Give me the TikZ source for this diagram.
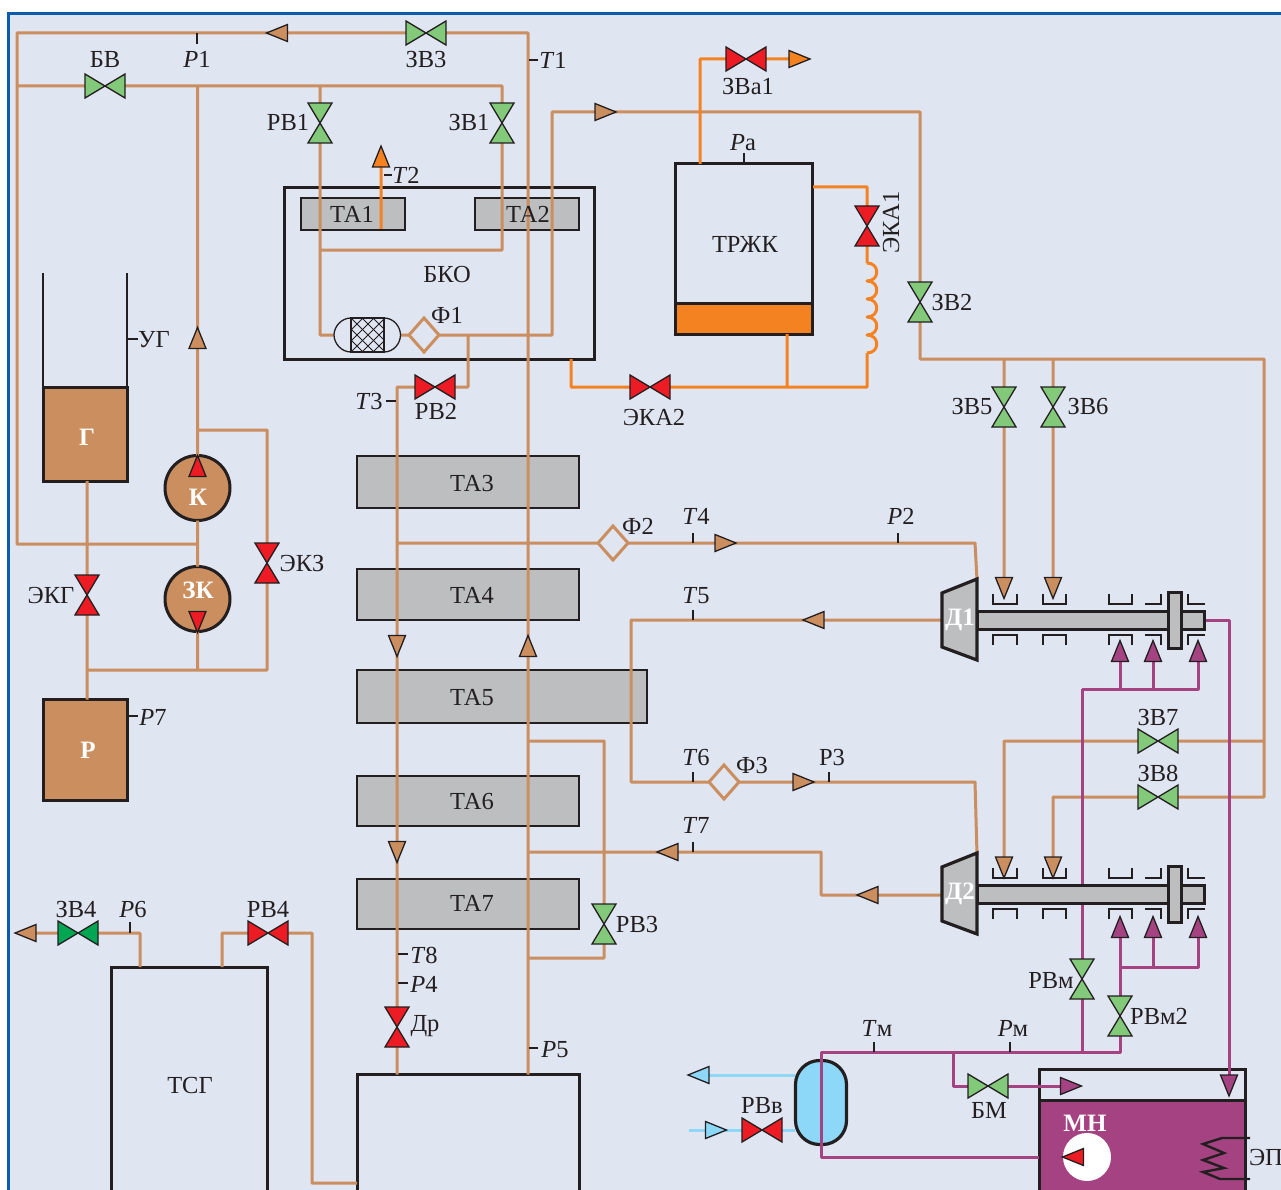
\documentclass[tikz,border=0pt]{standalone}
\usepackage{fontspec}
\setmainfont{Liberation Serif}
\pgfdeclarelayer{front}
\pgfsetlayers{main,front}
\definecolor{bgc}{HTML}{E0E5F2}
\definecolor{framec}{HTML}{0B5CAD}
\definecolor{dk}{HTML}{231F20}
\definecolor{brw}{HTML}{CB8E5F}
\definecolor{grn}{HTML}{82C97A}
\definecolor{dgrn}{HTML}{00A651}
\definecolor{rd}{HTML}{ED1C24}
\definecolor{org}{HTML}{F58220}
\definecolor{mag}{HTML}{A54281}
\definecolor{cyn}{HTML}{8DD8F8}
\definecolor{gry}{HTML}{BCBEC0}
\tikzset{
 vnode/.style={rectangle,inner sep=0pt,outer sep=0pt},
 sym/.style={draw=dk,line width=1.3pt,line join=miter},
 pipe/.style={draw=brw,line width=3pt,line join=round,line cap=butt},
 opipe/.style={draw=org,line width=3pt,line join=round},
 mpipe/.style={draw=mag,line width=3pt,line join=round},
 bpipe/.style={draw=cyn,line width=3pt},
 tick/.style={draw=dk,line width=1.2pt},
 box/.style={rectangle,draw=dk,line width=3pt,inner sep=0pt,outer sep=0pt},
 tabox/.style={box,fill=gry,line width=2.8pt},
 lbl/.style={inner sep=0pt,outer sep=0pt,text=dk,yshift=-0.5pt,font=\fontsize{24.5}{24.5}\selectfont},
 wlbl/.style={inner sep=0pt,outer sep=0pt,text=white,font=\fontsize{25}{25}\selectfont\bfseries},
}
\newcommand\bx[6][]{\pgfmathsetmacro\bxcx{(#3+#5)/2}\pgfmathsetmacro\bxcy{(#4+#6)/2}%
 \node[box,#1,minimum width={(#5-#3)*1pt},minimum height={(#6-#4)*1pt}] (#2) at (\bxcx,\bxcy) {};}
\newcommand\vH[4]{\node[vnode,minimum width=40pt,minimum height=24pt] (#1) at (#2,#3) {};
 \begin{pgfonlayer}{front}\draw[sym,fill=#4] (#1.north west)--(#1.south east)--(#1.north east)--(#1.south west)--cycle;\end{pgfonlayer}}
\newcommand\vV[4]{\node[vnode,minimum width=24pt,minimum height=40pt] (#1) at (#2,#3) {};
 \begin{pgfonlayer}{front}\draw[sym,fill=#4] (#1.north west)--(#1.south east)--(#1.south west)--(#1.north east)--cycle;\end{pgfonlayer}}
\newcommand\aR[4]{\node[vnode,minimum width=21pt,minimum height=17pt] (#1) at (#2,#3) {};
 \begin{pgfonlayer}{front}\draw[sym,fill=#4] (#1.south west)--(#1.east)--(#1.north west)--cycle;\end{pgfonlayer}}
\newcommand\aL[4]{\node[vnode,minimum width=21pt,minimum height=17pt] (#1) at (#2,#3) {};
 \begin{pgfonlayer}{front}\draw[sym,fill=#4] (#1.south east)--(#1.west)--(#1.north east)--cycle;\end{pgfonlayer}}
\newcommand\aU[4]{\node[vnode,minimum width=17pt,minimum height=21pt] (#1) at (#2,#3) {};
 \begin{pgfonlayer}{front}\draw[sym,fill=#4] (#1.south west)--(#1.north)--(#1.south east)--cycle;\end{pgfonlayer}}
\newcommand\aD[4]{\node[vnode,minimum width=17pt,minimum height=21pt] (#1) at (#2,#3) {};
 \begin{pgfonlayer}{front}\draw[sym,fill=#4] (#1.north west)--(#1.south)--(#1.north east)--cycle;\end{pgfonlayer}}
\newcommand\fltr[3]{\node[vnode,minimum width=30pt,minimum height=34pt] (#1) at (#2,#3) {};
 \begin{pgfonlayer}{front}\draw[draw=brw,line width=3pt,fill=bgc] (#1.north)--(#1.east)--(#1.south)--(#1.west)--cycle;\end{pgfonlayer}}
\newcommand\lab[4]{\node[lbl] (#1) at (#2,#3) {#4};}
\newcommand\wlab[4]{\node[wlbl] (#1) at (#2,#3) {#4};}
\begin{document}
\begin{tikzpicture}[x=1pt,y=-1pt]
\useasboundingbox (0,0) rectangle (1281,1190);
\fill[white] (0,0) rectangle (1281,1190);
\fill[bgc,draw=framec,line width=3pt] (8.5,14) rectangle (1295,1205);

% ---- boxes ----
\bx{bko}{284}{187.5}{594.5}{359}
\bx[tabox,line width=2pt]{ta1}{301}{198}{405}{230}
\bx[tabox,line width=2pt]{ta2}{475}{198}{579}{230}
\bx[tabox]{ta3}{357}{456}{579}{508}
\bx[tabox]{ta4}{357}{569}{579}{620}
\bx[tabox]{ta5}{357}{670}{647}{723}
\bx[tabox]{ta6}{357}{776}{579}{826}
\bx[tabox]{ta7}{357}{879}{579}{929}
\bx{tankB}{357}{1074.5}{579}{1205}
\bx{tsg}{111}{967}{267}{1205}
\bx[fill=brw]{tankG}{43}{387}{127}{481}
\draw[draw=dk,line width=2.6pt] (tankG.north west) -- (43,273) (tankG.north east) -- (127,273);
\bx[fill=brw]{boxR}{43}{699.5}{127}{800}
\bx{trzk}{675}{164}{812.5}{303}
\bx[fill=org]{trzkB}{675}{303}{812.5}{334}
\bx[fill=mag]{tankMN}{1039}{1100}{1245}{1205}
\bx{tankMNt}{1039}{1069}{1245}{1100}
\node[circle,draw=dk,line width=3pt,fill=brw,minimum size=65pt,inner sep=0pt,outer sep=0pt] (cK) at (197.5,488) {};
\node[circle,draw=dk,line width=3pt,fill=brw,minimum size=65pt,inner sep=0pt,outer sep=0pt] (cZK) at (197.5,599) {};
\node[circle,fill=white,minimum size=48pt,inner sep=0pt,outer sep=0pt] (cMN) at (1087,1157) {};
\node[rectangle,rounded corners=24pt,draw=dk,line width=3.2pt,fill=cyn,minimum width=51pt,minimum height=84pt,inner sep=0pt,outer sep=0pt] (cool) at (821,1102.5) {};

% ---- symbols ----
\vH{vZV3}{426}{33}{grn}
\vH{vBV}{105}{86}{grn}
\vV{vRV1}{320}{123}{grn}
\vV{vZV1}{502}{123}{grn}
\vV{vZV2}{920}{302}{grn}
\vV{vZV5}{1004}{407}{grn}
\vV{vZV6}{1053}{407}{grn}
\vH{vZV7}{1158}{741}{grn}
\vH{vZV8}{1158}{797}{grn}
\vV{vRV3}{604}{924}{grn}
\vH{vZV4}{78}{933}{dgrn}
\vH{vRV4}{268}{933}{rd}
\vH{vRV2}{435}{387}{rd}
\vV{vDr}{397}{1027}{rd}
\vV{vEKG}{87}{595}{rd}
\vV{vEKZ}{267}{563}{rd}
\vH{vZVa}{746}{59}{rd}
\vV{vEKA1}{867}{226}{rd}
\vH{vEKA2}{650}{387}{rd}
\vV{vRVm}{1082}{979}{grn}
\vV{vRVm2}{1120}{1016}{grn}
\vH{vBM}{988}{1086}{grn}
\vH{vRVv}{762}{1130}{rd}

\aL{aTop}{277}{33}{brw}
\aU{aKup}{197.5}{338}{brw}
\aR{aHot}{605.5}{112}{brw}
\aU{aT2}{381}{156.5}{org}
\aR{aOrg}{799.5}{59}{org}
\aD{aT3a}{397}{646}{brw}
\aU{aT1}{528}{646}{brw}
\aD{aT3b}{397}{852}{brw}
\aR{aF2}{725.5}{543}{brw}
\aL{aT5}{813.5}{620}{brw}
\aR{aF3}{803.5}{782}{brw}
\aL{aT7}{667.5}{852}{brw}
\aL{aD2}{867.5}{895}{brw}
\aL{aOut}{25.5}{933}{brw}
\aD{aS1}{1004}{588}{brw}
\aD{aS2}{1053}{588}{brw}
\aD{aS3}{1004}{867.5}{brw}
\aD{aS4}{1053}{867.5}{brw}
\aU{aM1}{1120}{651}{mag}
\aU{aM2}{1153}{651}{mag}
\aU{aM3}{1198}{651}{mag}
\aU{aM4}{1120}{927}{mag}
\aU{aM5}{1153}{927}{mag}
\aU{aM6}{1198}{927}{mag}
\aD{aMN}{1229}{1085.5}{mag}
\aR{aBM}{1071}{1086}{mag}
\aL{aBlue}{698.5}{1075}{cyn}
\aR{aBlueR}{716}{1130}{cyn}
\aU{aKr}{197.5}{466}{rd}
\aD{aZKr}{197.5}{622}{rd}
\aL{aMNr}{1073}{1157}{rd}

\fltr{fF1}{424}{335}
\fltr{fF2}{613}{543}
\fltr{fF3}{724}{782}

% drier
\node[vnode,minimum width=67pt,minimum height=34pt] (dry) at (367,335) {};

% ---- brown pipes ----
\coordinate (tTR) at (528,33);
\coordinate (tTL) at (17,33);
\coordinate (tBL) at (17,544);
\coordinate (tML) at (17,86);
\coordinate (jKZ) at (197.5,544);
\coordinate (jK) at (197.5,86);
\coordinate (jRV1) at (320,86);
\coordinate (jZV1) at (502,86);
\coordinate (cD1) at (320,335);
\coordinate (cZ1) at (502,250);
\coordinate (cZ2) at (320,250);
\coordinate (jK2) at (197.5,430);
\coordinate (cE1) at (267,430);
\coordinate (cE2) at (267,670);
\coordinate (cE3) at (87,670);
\coordinate (jZK) at (197.5,670);
\coordinate (h1) at (552,335);
\coordinate (h2) at (552,112);
\coordinate (h3) at (920,112);
\coordinate (h4) at (920,359);
\coordinate (h5) at (1264,359);
\coordinate (h6) at (1264,797);
\coordinate (h7) at (1264,741);
\coordinate (h8) at (1004,741);
\coordinate (h9) at (1053,797);
\coordinate (h10) at (1004,359);
\coordinate (h11) at (1053,359);
\coordinate (r1) at (468,335);
\coordinate (r2) at (468,387);
\coordinate (r3) at (397,387);
\coordinate (f1) at (397,543);
\coordinate (f2) at (975,543);
\coordinate (g1) at (631,620);
\coordinate (g2) at (631,782);
\coordinate (g3) at (975,782);
\coordinate (k1) at (821,895);
\coordinate (k2) at (821,852);
\coordinate (k3) at (528,852);
\coordinate (m1) at (528,741);
\coordinate (m2) at (604,741);
\coordinate (m3) at (604,958);
\coordinate (m4) at (528,958);
\coordinate (s1) at (140,967);
\coordinate (s2) at (140,933);
\coordinate (s3) at (222,967);
\coordinate (s4) at (222,933);
\coordinate (s5) at (312,933);
\coordinate (s6) at (312,1183);
\coordinate (s7) at (357,1183);
\path[pipe]
 (vZV3.east)--(tTR)--(tTR |- tankB.north)
 (vZV3.west)--(tTL)--(tBL)--(jKZ)
 (tML)--(vBV.west)
 (vBV.east)--(jZV1)--(vZV1.north)
 (jRV1)--(vRV1.north)
 (vRV1.south)--(cD1)--(dry.west)
 (vZV1.south)--(cZ1)--(cZ2)
 (jK)--(cK.north)
 (cK.south)--(cZK.north)
 (jK2)--(cE1)--(vEKZ.north)
 (vEKZ.south)--(cE2)--(cE3)
 (cZK.south)--(jZK)
 (vEKG.north |- tankG.south)--(vEKG.north)
 (vEKG.south)--(vEKG.south |- boxR.north)
 (dry.east)--(fF1.west)
 (fF1.east)--(h1)--(h2)--(h3)--(vZV2.north)
 (vZV2.south)--(h4)--(h5)--(h6)--(vZV8.east)
 (h7)--(vZV7.east)
 (vZV7.west)--(h8)--(aS3.north)
 (vZV8.west)--(h9)--(aS4.north)
 (h10)--(vZV5.north)
 (vZV5.south)--(aS1.north)
 (h11)--(vZV6.north)
 (vZV6.south)--(aS2.north)
 (r1)--(r2)--(vRV2.east)
 (vRV2.west)--(r3)--(vDr.north)
 (vDr.south)--(vDr.south |- tankB.north)
 (f1)--(fF2.west)
 (fF2.east)--(f2)--(977,580)
 (942,620)--(g1)--(g2)--(fF3.west)
 (fF3.east)--(g3)--(977,855)
 (942,895)--(k1)--(k2)--(k3)
 (m1)--(m2)--(vRV3.north)
 (vRV3.south)--(m3)--(m4)
 (s1)--(s2)--(vZV4.east)
 (vZV4.west)--(aOut.east)
 (s3)--(s4)--(vRV4.west)
 (vRV4.east)--(s5)--(s6)--(s7);

% ---- orange pipes ----
\coordinate (o1) at (700,164);
\coordinate (o2) at (700,59);
\coordinate (o3) at (813,187);
\coordinate (o4) at (867,187);
\coordinate (o5) at (867,263);
\coordinate (o6) at (867,353);
\coordinate (o7) at (867,387);
\coordinate (o8) at (571,387);
\coordinate (o9) at (571,359);
\coordinate (o10) at (787,334);
\coordinate (o11) at (787,387);
\coordinate (o12) at (381,229);
\path[opipe]
 (o1)--(o2)--(vZVa.west)
 (vZVa.east)--(aOrg.west)
 (o3)--(o4)--(vEKA1.north)
 (vEKA1.south)--(o5)
 (o5)
 .. controls (880,263) and (880,281) .. (867,281)
 .. controls (880,281) and (880,299) .. (867,299)
 .. controls (880,299) and (880,317) .. (867,317)
 .. controls (880,317) and (880,335) .. (867,335)
 .. controls (880,335) and (880,353) .. (o6)
 (o6)--(o7)--(vEKA2.east)
 (vEKA2.west)--(o8)--(o9)
 (o10)--(o11)
 (o12)--(aT2.south);

% ---- magenta pipes ----
\coordinate (q1) at (1204,620);
\coordinate (q2) at (1229,620);
\coordinate (q3) at (1082,689);
\coordinate (q4) at (1198,689);
\coordinate (q5) at (1120,689);
\coordinate (q6) at (1153,689);
\coordinate (q7) at (1082,1052);
\coordinate (q8) at (1120,967);
\coordinate (q9) at (1198,967);
\coordinate (q10) at (1153,967);
\coordinate (q11) at (1120,1052);
\coordinate (q12) at (821,1052);
\coordinate (q13) at (821,1157);
\coordinate (q14) at (1039,1157);
\coordinate (q15) at (953,1052);
\coordinate (q16) at (953,1086);
\path[mpipe]
 (q1)--(q2)--(aMN.north)
 (q3)--(q4)--(aM3.south)
 (q5)--(aM1.south)
 (q6)--(aM2.south)
 (q3)--(vRVm.north)
 (vRVm.south)--(q7)
 (q8)--(q9)--(aM6.south)
 (q8)--(aM4.south)
 (q10)--(aM5.south)
 (q8)--(vRVm2.north)
 (vRVm2.south)--(q11)--(q12)--(q13)--(q14)
 (q15)--(q16)--(vBM.west)
 (vBM.east)--(aBM.west);

% ---- blue pipes ----
\coordinate (b1) at (795,1075);
\coordinate (b2) at (795,1130);
\coordinate (b3) at (689,1130);
\path[bpipe]
 (b1)--(aBlue.east)
 (b2)--(vRVv.east)
 (vRVv.west)--(b3);

% ---- drier ----
\draw[draw=dk,line width=1.3pt,fill=bgc] (351,318) .. controls (341,318) and (334,327) .. (334,335)
 .. controls (334,343) and (341,352) .. (351,352) -- (384,352)
 .. controls (394,352) and (400.5,343) .. (400.5,335) .. controls (400.5,327) and (394,318) .. (384,318) -- cycle;
\begin{scope}
\clip (351,318) rectangle (384,352);
\foreach \k in {-8,...,8} {
 \draw[dk,line width=1pt] (351+\k*11,318) -- (351+\k*11+34,352);
 \draw[dk,line width=1pt] (351+\k*11,352) -- (351+\k*11+34,318);
}
\end{scope}
\draw[dk,line width=1.6pt] (351,318) rectangle (384,352);

% ---- turbines ----
\node[vnode,minimum width=35pt,minimum height=81pt] (D1) at (959.5,619.5) {};
\node[vnode,minimum width=35pt,minimum height=81pt] (D2) at (959.5,894) {};
\foreach \off in {0,274} {
\begin{scope}[shift={(0,\off)}]
 \draw[draw=dk,line width=3pt,fill=gry] (977,611) rectangle (1168,629);
 \draw[draw=dk,line width=3pt,fill=gry] (1181,611) rectangle (1204,629);
 \draw[draw=dk,line width=3pt,fill=gry] (1168,592) rectangle (1181,648);
 \draw[draw=dk,line width=3.2pt,fill=gry,line join=miter] (942,593) -- (977,579) -- (977,660) -- (942,647) -- cycle;
 \foreach \a/\b in {993/1017,1043/1066,1109/1132} {
  \draw[draw=dk,line width=2.6pt] (\a,594) -- (\a,604) -- (\b,604) -- (\b,594);
  \draw[draw=dk,line width=2.6pt] (\a,645) -- (\a,635) -- (\b,635) -- (\b,645);
 }
 \draw[draw=dk,line width=2.6pt] (1145,604) -- (1161,604) -- (1161,594);
 \draw[draw=dk,line width=2.6pt] (1145,635) -- (1161,635) -- (1161,645);
 \draw[draw=dk,line width=2.6pt] (1188,594) -- (1188,604) -- (1205,604);
 \draw[draw=dk,line width=2.6pt] (1188,645) -- (1188,635) -- (1205,635);
\end{scope}
}

% heater
\draw[draw=dk,line width=2.4pt,line join=miter] (1250,1138) -- (1222,1138) -- (1203,1144) -- (1224,1153) -- (1203,1160) -- (1224,1168) -- (1203,1172) -- (1220,1179) -- (1250,1179);

% ---- ticks ----
\path[tick] (197,33)--(197,44) (538,60)--(529,60) (384,175)--(392,175) (386,401)--(396,401)
 (128,339)--(138,339) (128,716)--(138,716) (744,153)--(744,164)
 (693,533)--(693,543) (898,533)--(898,543) (693,610)--(693,620) (693,772)--(693,782)
 (829,772)--(829,782) (693,842)--(693,852) (398,954)--(408,954) (398,983)--(408,983)
 (529,1048)--(538,1048) (130,922)--(130,933) (874,1042)--(874,1052) (1010,1042)--(1010,1052);

% ---- labels ----
\begin{pgfonlayer}{front}
\lab{lBV}{105}{59}{БВ}
\lab{lP1}{197}{59}{\textit{P}1}
\lab{lZV3}{426}{59}{ЗВ3}
\lab{lT1}{553}{60}{\textit{T}1}
\lab{lRV1}{288}{122}{РВ1}
\lab{lZV1}{469}{122}{ЗВ1}
\lab{lT2}{406}{175}{\textit{T}2}
\lab{lTA1}{352}{214}{ТА1}
\lab{lTA2}{528}{214}{ТА2}
\lab{lBKO}{447}{274}{БКО}
\lab{lF1}{447}{315}{Ф1}
\lab{lYG}{154}{339}{УГ}
\lab{lT3}{369}{401}{\textit{T}3}
\lab{lRV2}{436}{411}{РВ2}
\lab{lTA3}{472}{483}{ТА3}
\lab{lTA4}{472}{595}{ТА4}
\lab{lTA5}{472}{697}{ТА5}
\lab{lTA6}{472}{801}{ТА6}
\lab{lTA7}{472}{903}{ТА7}
\lab{lF2}{638}{526}{Ф2}
\lab{lT4}{696}{516}{\textit{T}4}
\lab{lP2}{901}{516}{\textit{P}2}
\lab{lT5}{696}{595}{\textit{T}5}
\lab{lT6}{696}{757}{\textit{T}6}
\lab{lF3}{752}{765}{Ф3}
\lab{lP3}{832}{757}{Р3}
\lab{lT7}{696}{825}{\textit{T}7}
\lab{lZVa}{748}{86}{ЗВа1}
\lab{lPa}{743}{142}{\textit{P}а}
\lab{lTRZK}{745}{244}{ТРЖК}
\node[lbl,rotate=90,yshift=1pt] (lEKA1) at (892,222) {ЭКА1};
\lab{lZV2}{952}{302}{ЗВ2}
\lab{lEKA2}{654}{417}{ЭКА2}
\lab{lZV5}{972}{406}{ЗВ5}
\lab{lZV6}{1088}{406}{ЗВ6}
\lab{lEKZ}{302}{563}{ЭКЗ}
\lab{lEKG}{51}{595}{ЭКГ}
\lab{lP7}{153}{717}{\textit{P}7}
\lab{lZV7}{1158}{717}{ЗВ7}
\lab{lZV8}{1158}{773}{ЗВ8}
\lab{lRV3}{637}{924}{РВ3}
\lab{lZV4}{76}{909}{ЗВ4}
\lab{lP6}{133}{909}{\textit{P}6}
\lab{lRV4}{268}{909}{РВ4}
\lab{lT8}{424}{955}{\textit{T}8}
\lab{lP4}{424}{984}{\textit{P}4}
\lab{lDr}{425}{1026}{Др}
\lab{lP5}{555}{1049}{\textit{P}5}
\lab{lTSG}{190}{1085}{ТСГ}
\lab{lRVm}{1051}{980}{РВм}
\lab{lRVm2}{1159}{1016}{РВм2}
\lab{lTm}{877}{1028}{\textit{T}м}
\lab{lPm}{1013}{1028}{\textit{P}м}
\lab{lBM}{989}{1110}{БМ}
\lab{lRVv}{762}{1105}{РВв}
\node[lbl,anchor=west] (lEP) at (1249,1157) {ЭП};
\wlab{wG}{87}{437}{Г}
\wlab{wK}{198}{497}{К}
\wlab{wZK}{198}{590}{ЗК}
\wlab{wR}{88}{750}{Р}
\wlab{wD1}{960}{620}{Д1}
\wlab{wD2}{960}{894}{Д2}
\wlab{wMN}{1085}{1123}{МН}
\end{pgfonlayer}
\end{tikzpicture}
\end{document}
